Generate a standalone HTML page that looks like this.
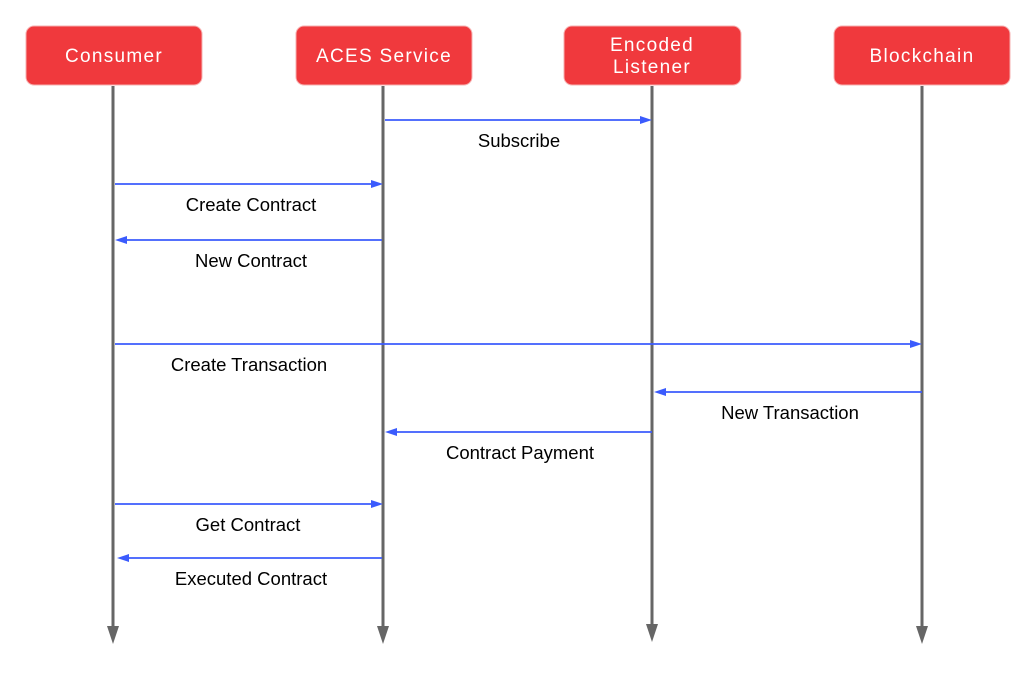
<!DOCTYPE html>
<html><head><meta charset="utf-8"><style>
html,body{margin:0;padding:0;background:#fff;}
svg{display:block;}
.b{font-family:"Liberation Sans",sans-serif;font-size:19px;letter-spacing:1.3px;fill:#fff;text-anchor:middle;}
.l{font-family:"Liberation Sans",sans-serif;font-size:18.5px;fill:#000;text-anchor:middle;}
</style></head><body>
<svg width="1036" height="682" viewBox="0 0 1036 682" xmlns="http://www.w3.org/2000/svg">
<g fill="#f0393d" stroke="#f6b0b0" stroke-width="1">
<rect x="26" y="26" width="176" height="59" rx="8"/>
<rect x="296" y="26" width="176" height="59" rx="8"/>
<rect x="564" y="26" width="177" height="59" rx="8"/>
<rect x="834" y="26" width="176" height="59" rx="8"/>
</g>
<text class="b" x="114" y="62">Consumer</text>
<text class="b" x="384" y="62">ACES Service</text>
<text class="b" x="652" y="51">Encoded</text>
<text class="b" x="652" y="73">Listener</text>
<text class="b" x="922" y="62">Blockchain</text>
<g stroke="#666" stroke-width="3">
<line x1="113" y1="86" x2="113" y2="628"/>
<line x1="383" y1="86" x2="383" y2="628"/>
<line x1="652" y1="86" x2="652" y2="626"/>
<line x1="922" y1="86" x2="922" y2="628"/>
</g>
<g fill="#666">
<polygon points="107,626 119,626 113,644"/>
<polygon points="377,626 389,626 383,644"/>
<polygon points="646,624 658,624 652,642"/>
<polygon points="916,626 928,626 922,644"/>
</g>
<g stroke="#3b5bfd" stroke-width="1.8">
<line x1="385" y1="120" x2="642" y2="120"/>
<line x1="115" y1="184" x2="373" y2="184"/>
<line x1="125" y1="240" x2="382" y2="240"/>
<line x1="115" y1="344" x2="912" y2="344"/>
<line x1="664" y1="392" x2="922" y2="392"/>
<line x1="395" y1="432" x2="652" y2="432"/>
<line x1="115" y1="504" x2="373" y2="504"/>
<line x1="127" y1="558" x2="382" y2="558"/>
</g>
<g fill="#3b5bfd">
<polygon points="640,116 652,120 640,124"/>
<polygon points="371,180 383,184 371,188"/>
<polygon points="127,236 115,240 127,244"/>
<polygon points="910,340 922,344 910,348"/>
<polygon points="666,388 654,392 666,396"/>
<polygon points="397,428 385,432 397,436"/>
<polygon points="371,500 383,504 371,508"/>
<polygon points="129,554 117,558 129,562"/>
</g>
<text class="l" x="519" y="147">Subscribe</text>
<text class="l" x="251" y="211">Create Contract</text>
<text class="l" x="251" y="267">New Contract</text>
<text class="l" x="249" y="371">Create Transaction</text>
<text class="l" x="790" y="419">New Transaction</text>
<text class="l" x="520" y="459">Contract Payment</text>
<text class="l" x="248" y="531">Get Contract</text>
<text class="l" x="251" y="585">Executed Contract</text>
</svg>
</body></html>
